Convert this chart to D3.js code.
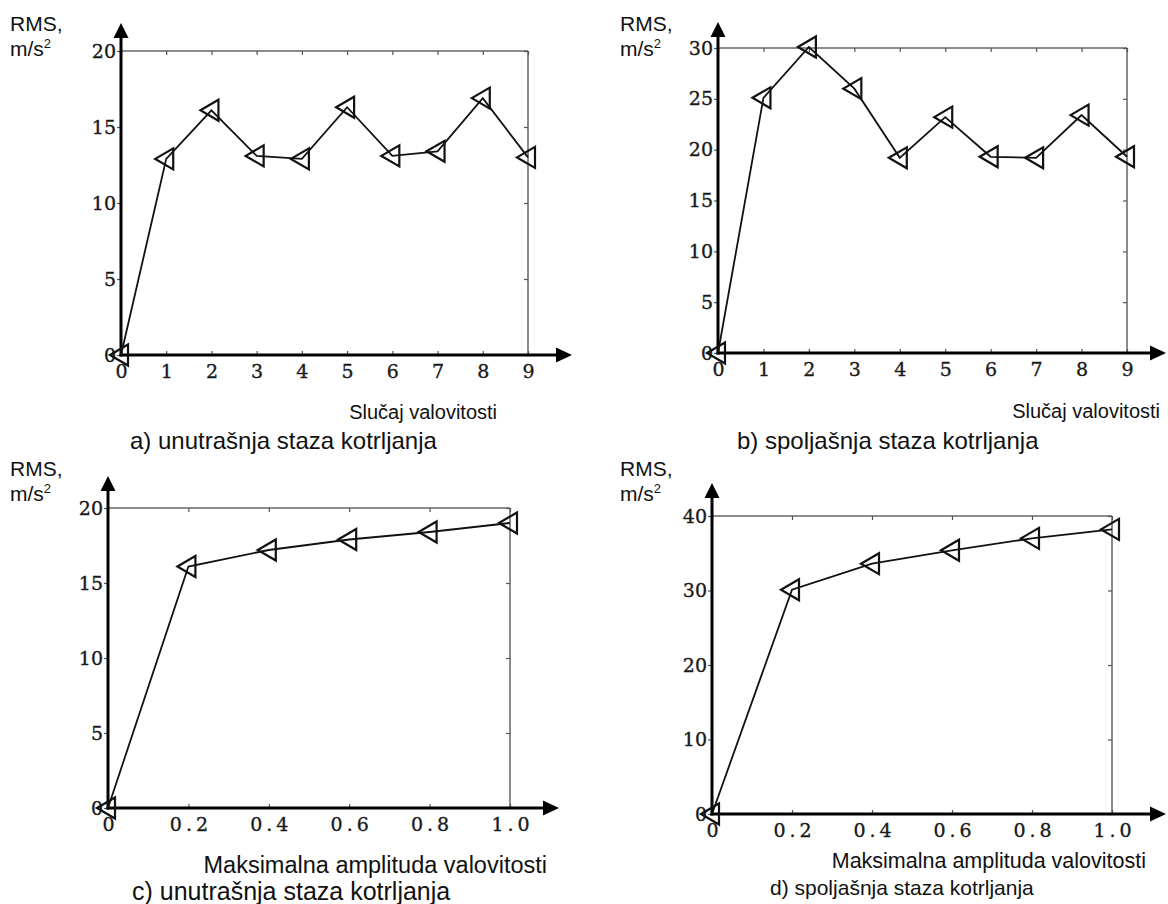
<!DOCTYPE html>
<html>
<head>
<meta charset="utf-8">
<script src="https://cdn.jsdelivr.net/npm/d3@7"></script>
<style>
  html, body { margin: 0; padding: 0; background: #fff; }
  svg { display: block; }
  .tick text { font-family: "DejaVu Serif", serif; font-size: 19px; fill: #1a1a1a; stroke: #1a1a1a; stroke-width: 0.35px; }
  .tick line { stroke: #555; stroke-width: 1.2; }
  .lbl { font-family: "Liberation Sans", Arial, sans-serif; fill: #111; }
</style>
</head>
<body>
<svg id="chart" width="1168" height="904"></svg>
<script>
// Waviness case index (x of panels a, b)
const caseIndex = [0, 1, 2, 3, 4, 5, 6, 7, 8, 9];
// RMS acceleration, m/s^2, per waviness case
const innerCaseRMS = [0, 12.9, 16.1, 13.1, 12.9, 16.3, 13.1, 13.4, 16.9, 13.0];
const outerCaseRMS = [0, 25.1, 30.1, 26.0, 19.2, 23.2, 19.3, 19.2, 23.4, 19.3];

// Maximum waviness amplitude (x of panels c, d)
const amplitude = [0, 0.2, 0.4, 0.6, 0.8, 1.0];
// RMS acceleration, m/s^2, per amplitude
const innerAmpRMS = [0, 16.1, 17.2, 17.9, 18.4, 19.0];
const outerAmpRMS = [0, 30.1, 33.6, 35.4, 37.0, 38.2];

// Tick values
const caseTicks = [0, 1, 2, 3, 4, 5, 6, 7, 8, 9];
const ampTicks = [0, 0.2, 0.4, 0.6, 0.8, 1.0];
const rmsTicks20 = [0, 5, 10, 15, 20];
const rmsTicks30 = [0, 5, 10, 15, 20, 25, 30];
const rmsTicks40 = [0, 10, 20, 30, 40];

// Text
const yTitle = "RMS,";
const yUnit = "m/s";
const caseTitle = "Slučaj valovitosti";
const ampTitle = "Maksimalna amplituda valovitosti";
const captions = [
  "a) unutrašnja staza kotrljanja",
  "b) spoljašnja staza kotrljanja",
  "c) unutrašnja staza kotrljanja",
  "d) spoljašnja staza kotrljanja"
];

const svg = d3.select("#chart");

// Panel layout (pixel geometry)
const panels = [
  { x: caseIndex, y: innerCaseRMS, xTicks: caseTicks, yTicks: rmsTicks20, xMax: 9, yMax: 20,
    left: 121, right: 528, bottom: 355, top: 51, yTip: 23, xTip: 572, amp: false,
    unitX: 10, unitY: 31,
    xTitle: caseTitle, xTitleX: 497, xTitleY: 419, xTitleSize: 20,
    caption: captions[0], capX: 130, capY: 449, capSize: 24 },
  { x: caseIndex, y: outerCaseRMS, xTicks: caseTicks, yTicks: rmsTicks30, xMax: 9, yMax: 30,
    left: 718, right: 1127, bottom: 353, top: 48, yTip: 22, xTip: 1166, amp: false,
    unitX: 620, unitY: 31,
    xTitle: caseTitle, xTitleX: 1160, xTitleY: 418, xTitleSize: 20,
    caption: captions[1], capX: 737, capY: 449, capSize: 24 },
  { x: amplitude, y: innerAmpRMS, xTicks: ampTicks, yTicks: rmsTicks20, xMax: 1, yMax: 20,
    left: 108, right: 510, bottom: 808, top: 508, yTip: 476, xTip: 559, amp: true,
    unitX: 10, unitY: 476,
    xTitle: ampTitle, xTitleX: 547, xTitleY: 873, xTitleSize: 23.5,
    caption: captions[2], capX: 132, capY: 900, capSize: 25 },
  { x: amplitude, y: outerAmpRMS, xTicks: ampTicks, yTicks: rmsTicks40, xMax: 1, yMax: 40,
    left: 712, right: 1112, bottom: 814, top: 516, yTip: 483, xTip: 1166, amp: true,
    unitX: 620, unitY: 476,
    xTitle: ampTitle, xTitleX: 1146, xTitleY: 868, xTitleSize: 21.5,
    caption: captions[3], capX: 770, capY: 895, capSize: 21 }
];

const markerPath = "M-11,0 L7,-10.5 L7,10.5 Z";

panels.forEach(p => {
  const x = d3.scaleLinear().domain([0, p.xMax]).range([p.left, p.right]);
  const y = d3.scaleLinear().domain([0, p.yMax]).range([p.bottom, p.top]);
  const g = svg.append("g");

  // Frame: thin top and right edges
  g.append("line").attr("x1", p.left).attr("x2", p.right).attr("y1", p.top).attr("y2", p.top)
    .attr("stroke", "#666").attr("stroke-width", 1.5);
  g.append("line").attr("x1", p.right).attr("x2", p.right).attr("y1", p.top).attr("y2", p.bottom)
    .attr("stroke", "#666").attr("stroke-width", 1.5);

  // Mirrored ticks on top and right edges
  g.append("g").attr("transform", `translate(0,${p.top})`)
    .call(d3.axisTop(x).tickValues(p.xTicks).tickSizeInner(-4).tickSizeOuter(0).tickFormat(""))
    .call(s => s.select(".domain").remove());
  g.append("g").attr("transform", `translate(${p.right},0)`)
    .call(d3.axisRight(y).tickValues(p.yTicks).tickSizeInner(-4).tickSizeOuter(0).tickFormat(""))
    .call(s => s.select(".domain").remove());

  // Bottom axis: inward ticks with labels
  const fmtX = p.amp ? d3.format(".1f") : d3.format("d");
  const xAxisG = g.append("g").attr("transform", `translate(0,${p.bottom})`)
    .call(d3.axisBottom(x).tickValues(p.xTicks).tickSizeInner(-4).tickSizeOuter(0)
      .tickPadding(10).tickFormat(d => d === 0 ? "0" : fmtX(d)))
    .call(s => s.select(".domain").remove());
  if (p.amp) xAxisG.selectAll(".tick text").filter(d => d !== 0)
    .attr("letter-spacing", "4px").attr("dx", "2px");

  // Left axis: outward ticks with labels
  g.append("g").attr("transform", `translate(${p.left},0)`)
    .call(d3.axisLeft(y).tickValues(p.yTicks).tickSizeInner(4).tickSizeOuter(0).tickPadding(1))
    .call(s => s.select(".domain").remove());

  // Main axes with arrowheads
  g.append("line").attr("x1", p.left).attr("x2", p.left)
    .attr("y1", p.bottom + 1.5).attr("y2", p.yTip + 12)
    .attr("stroke", "#000").attr("stroke-width", 3);
  g.append("path")
    .attr("d", `M${p.left},${p.yTip} L${p.left - 7.5},${p.yTip + 15} L${p.left + 7.5},${p.yTip + 15} Z`)
    .attr("fill", "#000");
  g.append("line").attr("x1", p.left - 1.5).attr("x2", p.xTip - 12)
    .attr("y1", p.bottom).attr("y2", p.bottom)
    .attr("stroke", "#000").attr("stroke-width", 3);
  g.append("path")
    .attr("d", `M${p.xTip},${p.bottom} L${p.xTip - 16},${p.bottom - 7.5} L${p.xTip - 16},${p.bottom + 7.5} Z`)
    .attr("fill", "#000");

  // Series line
  const pts = p.x.map((v, i) => [v, p.y[i]]);
  g.append("path").datum(pts)
    .attr("d", d3.line().x(d => x(d[0])).y(d => y(d[1])))
    .attr("fill", "none").attr("stroke", "#111").attr("stroke-width", 1.8);

  // Open left-pointing triangle markers
  g.selectAll(".mk").data(pts).enter().append("path")
    .attr("class", "mk")
    .attr("d", markerPath)
    .attr("transform", d => `translate(${x(d[0])},${y(d[1])})`)
    .attr("fill", "none").attr("stroke", "#111").attr("stroke-width", 2.2)
    .attr("stroke-linejoin", "miter");

  // Y title and unit
  g.append("text").attr("class", "lbl").attr("x", p.unitX).attr("y", p.unitY)
    .attr("font-size", 21).text(yTitle);
  const u = g.append("text").attr("class", "lbl").attr("x", p.unitX).attr("y", p.unitY + 25)
    .attr("font-size", 21).text(yUnit);
  u.append("tspan").attr("dy", -8).attr("font-size", 13).text("2");

  // X title
  g.append("text").attr("class", "lbl").attr("x", p.xTitleX).attr("y", p.xTitleY)
    .attr("text-anchor", "end").attr("font-size", p.xTitleSize).text(p.xTitle);

  // Caption
  g.append("text").attr("class", "lbl").attr("x", p.capX).attr("y", p.capY)
    .attr("font-size", p.capSize).text(p.caption);
});
</script>
</body>
</html>
